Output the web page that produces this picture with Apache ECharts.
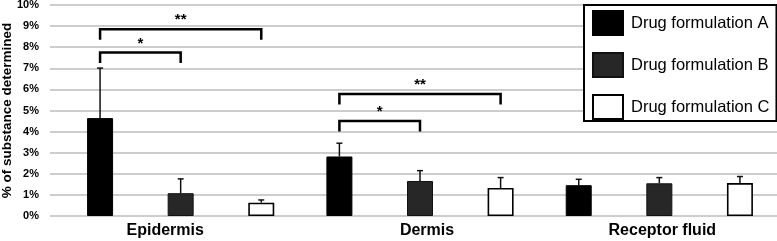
<!DOCTYPE html>
<html>
<head>
<meta charset="utf-8">
<script src="https://cdn.jsdelivr.net/npm/echarts@6.0.0/dist/echarts.min.js"></script>
<style>
html,body{margin:0;padding:0;background:#fff;}
#chart{width:777px;height:241px;}
</style>
</head>
<body>
<div id="chart"></div>
<script>
// ---- data ----
var categories = ['Epidermis', 'Dermis', 'Receptor fluid'];
var seriesNames = ['Drug formulation A', 'Drug formulation B', 'Drug formulation C'];
var meanA = [4.64, 2.82, 1.46];
var meanB = [1.08, 1.66, 1.55];
var meanC = [0.63, 1.33, 1.56];
var sdA = [2.37, 0.63, 0.28];
var sdB = [0.68, 0.49, 0.27];
var sdC = [0.13, 0.49, 0.31];
var yTicks = [0, 1, 2, 3, 4, 5, 6, 7, 8, 9, 10];
// significance brackets: category, from formulation, to formulation, level (%), mark
var bracketCat = [0, 0, 1, 1];
var bracketFrom = [0, 0, 0, 0];
var bracketTo = [1, 2, 1, 2];
var bracketLevel = [7.75, 8.85, 4.5, 5.78];
var bracketMark = ['*', '**', '*', '**'];

// ---- style constants ----
var FONT = 'Liberation Sans, Arial, sans-serif';
var BAR_W = 26;
var GAP_RATIO = 2.1;
var STEP = BAR_W * (1 + GAP_RATIO);
var LEG = 0.5;

var means = [meanA, meanB, meanC];
var sds = [sdA, sdB, sdC];
var errData = [];
for (var f = 0; f < 3; f++) {
  for (var c = 0; c < categories.length; c++) {
    errData.push([c, f, means[f][c], sds[f][c]]);
  }
}
var brData = [];
for (var i = 0; i < bracketCat.length; i++) {
  brData.push([bracketCat[i], bracketFrom[i], bracketTo[i], bracketLevel[i], i]);
}

var chart = echarts.init(document.getElementById('chart'), null, {renderer: 'canvas'});

var barStyles = [
  {color: '#000000', borderColor: '#000000', borderWidth: 1},
  {color: '#272727', borderColor: '#111111', borderWidth: 1},
  {color: '#ffffff', borderColor: '#000000', borderWidth: 1.6}
];

var series = [];
for (var s = 0; s < 3; s++) {
  series.push({
    name: seriesNames[s],
    type: 'bar',
    xAxisIndex: 0,
    yAxisIndex: 0,
    data: means[s],
    barWidth: BAR_W,
    barGap: (GAP_RATIO * 100) + '%',
    itemStyle: barStyles[s],
    emphasis: {disabled: true},
    z: 3
  });
}

series.push({
  type: 'custom',
  xAxisIndex: 0,
  yAxisIndex: 0,
  data: errData,
  z: 4,
  silent: true,
  clip: false,
  encode: {x: 0, y: 2},
  renderItem: function (params, api) {
    var cat = api.value(0), form = api.value(1), m = api.value(2), sd = api.value(3);
    var base = api.coord([cat, m]);
    var top = api.coord([cat, m + sd]);
    var x = base[0] + (form - 1) * STEP;
    return {
      type: 'group',
      children: [
        {type: 'line', shape: {x1: x, y1: base[1], x2: x, y2: top[1]}, style: {stroke: '#111', lineWidth: 1.5}},
        {type: 'line', shape: {x1: x - 3, y1: top[1], x2: x + 3, y2: top[1]}, style: {stroke: '#111', lineWidth: 1.5}}
      ]
    };
  }
});

series.push({
  type: 'custom',
  xAxisIndex: 0,
  yAxisIndex: 0,
  data: brData,
  z: 5,
  silent: true,
  clip: false,
  encode: {x: 0, y: 3},
  renderItem: function (params, api) {
    var cat = api.value(0), fr = api.value(1), to = api.value(2), lvl = api.value(3), idx = api.value(4);
    var p = api.coord([cat, lvl]);
    var pl = api.coord([cat, lvl - LEG]);
    var x1 = p[0] + (fr - 1) * STEP;
    var x2 = p[0] + (to - 1) * STEP;
    return {
      type: 'group',
      children: [
        {type: 'polyline', shape: {points: [[x1, pl[1]], [x1, p[1]], [x2, p[1]], [x2, pl[1]]]},
         style: {stroke: '#000', lineWidth: 2.5, fill: null}},
        {type: 'text', style: {text: bracketMark[idx], x: (x1 + x2) / 2, y: p[1] - 1.5,
          align: 'center', verticalAlign: 'bottom', fontSize: 15, fontWeight: 'bold',
          fontFamily: FONT, fill: '#000'}}
      ]
    };
  }
});

var option = {
  backgroundColor: '#ffffff',
  animation: false,
  grid: [
    {left: 61, width: 718, top: 5, bottom: 25, containLabel: false, outerBoundsMode: 'none'},
    {left: 50, right: 0, top: 5, bottom: 25, containLabel: false, outerBoundsMode: 'none'}
  ],
  legend: {
    orient: 'vertical',
    left: 584,
    top: 5,
    padding: [5, 7, 1, 8],
    itemWidth: 30,
    itemHeight: 24,
    itemGap: 16,
    icon: 'rect',
    backgroundColor: '#ffffff',
    borderColor: '#000000',
    borderWidth: 2,
    borderRadius: 0,
    data: seriesNames,
    selectedMode: false,
    textStyle: {fontSize: 16.5, fontFamily: FONT, color: '#000', padding: [0, 0, 0, 3]},
    z: 10
  },
  xAxis: [
    {
      type: 'category',
      gridIndex: 0,
      data: categories,
      axisLine: {show: false},
      axisTick: {show: false},
      axisLabel: {
        margin: 7,
        interval: 0,
        formatter: function (v, i) { return '{s' + i + '|' + v + '}'; },
        rich: {
          s0: {fontSize: 16, fontWeight: 'bold', fontFamily: FONT, color: '#000', padding: [0, 31, 0, 0]},
          s1: {fontSize: 16, fontWeight: 'bold', fontFamily: FONT, color: '#000', padding: [0, 0, 0, 14]},
          s2: {fontSize: 16, fontWeight: 'bold', fontFamily: FONT, color: '#000', padding: [0, 0, 0, 6]}
        }
      },
      splitLine: {show: false}
    },
    {
      type: 'value',
      gridIndex: 1,
      min: 0,
      max: 1,
      show: false
    }
  ],
  yAxis: [
    {
      type: 'value',
      gridIndex: 0,
      min: yTicks[0],
      max: yTicks[yTicks.length - 1],
      interval: 1,
      show: false,
      splitLine: {show: false}
    },
    {
      type: 'value',
      gridIndex: 1,
      min: yTicks[0],
      max: yTicks[yTicks.length - 1],
      interval: 1,
      name: '% of substance determined',
      nameLocation: 'middle',
      nameGap: 36,
      nameMoveOverlap: false,
      nameTextStyle: {fontSize: 13.5, fontWeight: 'bold', fontFamily: FONT, color: '#000'},
      axisLine: {show: false},
      axisTick: {show: false},
      axisLabel: {margin: 11, fontSize: 11, fontWeight: 'bold', fontFamily: FONT, color: '#000',
        formatter: '{value}%'},
      splitLine: {show: true, lineStyle: {color: '#bdbdbd', width: 1.5}}
    }
  ],
  series: series
};
chart.setOption(option);
</script>
</body>
</html>
